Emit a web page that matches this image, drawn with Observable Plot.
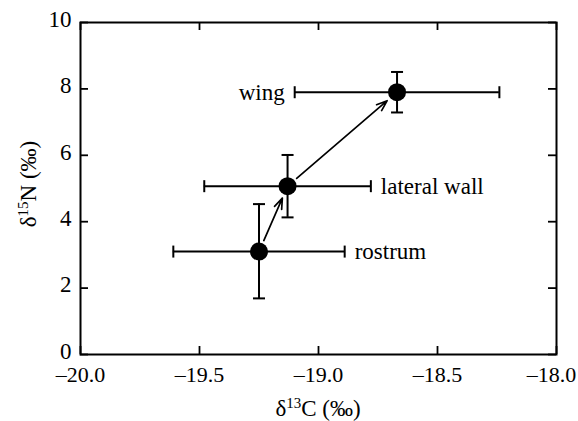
<!DOCTYPE html>
<html><head><meta charset="utf-8">
<script src="https://cdn.jsdelivr.net/npm/d3@7"></script>
<script src="https://cdn.jsdelivr.net/npm/@observablehq/plot@0.6"></script>
<style>body{margin:0;background:#fff} svg text{font-family:"Liberation Serif","Times New Roman","DejaVu Serif",serif !important;}</style>
</head><body><div id="chart"></div>
<script>
// ---- data ----
const tissues  = ["rostrum", "lateral wall", "wing"];
const d13C     = [-19.25, -19.13, -18.67];
const d13C_lo  = [-19.61, -19.48, -19.10];
const d13C_hi  = [-18.89, -18.78, -18.24];
const d15N     = [3.10, 5.07, 7.90];
const d15N_lo  = [1.69, 4.13, 7.29];
const d15N_hi  = [4.53, 6.01, 8.51];
const labelSide = ["right", "right", "left"];
const xTicks = [-20, -19.5, -19, -18.5, -18];
const yTicks = [0, 2, 4, 6, 8, 10];
const xTitle = ["δ", "13", "C (‰)"];
const yTitle = ["δ", "15", "N (‰)"];

// ---- layout ----
const W = 578, H = 421, mL = 80, mR = 22, mT = 22, mB = 67;
const innerW = W - mL - mR, innerH = H - mT - mB;
const font = "Liberation Serif, Times New Roman, DejaVu Serif, serif";
const fs = 23;

const points = tissues.map((t, i) => ({
  name: t, x: d13C[i], y: d15N[i],
  xlo: d13C_lo[i], xhi: d13C_hi[i], ylo: d15N_lo[i], yhi: d15N_hi[i],
  side: labelSide[i]
}));
const arrows = points.slice(1).map((p, i) => ({x1: points[i].x, y1: points[i].y, x2: p.x, y2: p.y}));

const capV = {draw(ctx, size) { const r = Math.sqrt(size / Math.PI); ctx.moveTo(0, -r); ctx.lineTo(0, r); }};
const capH = {draw(ctx, size) { const r = Math.sqrt(size / Math.PI); ctx.moveTo(-r, 0); ctx.lineTo(r, 0); }};
const fmtX = d => d3.format(".1f")(d).replace("−", "–");
const lastX = xTicks[xTicks.length - 1];

const chart = Plot.plot({
  width: W, height: H,
  marginLeft: mL, marginRight: mR, marginTop: mT, marginBottom: mB,
  style: {fontFamily: font, fontSize: fs + "px", background: "white", color: "black"},
  x: {domain: [-20, -18]},
  y: {domain: [0, 10]},
  marks: [
    Plot.axisX({ticks: xTicks.slice(0, -1), tickSize: 0, tickPadding: 12, tickFormat: fmtX, label: null, fontSize: 22}),
    Plot.axisX({ticks: [lastX], tickSize: 0, tickPadding: 12, tickFormat: fmtX, label: null, fontSize: 22, dx: -5}),
    Plot.axisY({ticks: yTicks, tickSize: 0, tickPadding: 9, label: null, fontSize: fs, dy: -3}),
    Plot.tickX(xTicks, {x: d => d, insetTop: innerH - 8, strokeWidth: 1.8}),
    Plot.tickX(xTicks, {x: d => d, insetBottom: innerH - 8, strokeWidth: 1.8}),
    Plot.tickY(yTicks, {y: d => d, insetRight: innerW - 8, strokeWidth: 1.8}),
    Plot.tickY(yTicks, {y: d => d, insetLeft: innerW - 8, strokeWidth: 1.8}),
    Plot.frame({stroke: "black", strokeWidth: 2}),
    Plot.ruleY(points, {y: "y", x1: "xlo", x2: "xhi", strokeWidth: 2}),
    Plot.ruleX(points, {x: "x", y1: "ylo", y2: "yhi", strokeWidth: 2}),
    Plot.dot(points, {x: "xlo", y: "y", symbol: capV, r: 6, fill: "none", stroke: "black", strokeWidth: 2}),
    Plot.dot(points, {x: "xhi", y: "y", symbol: capV, r: 6, fill: "none", stroke: "black", strokeWidth: 2}),
    Plot.dot(points, {x: "x", y: "ylo", symbol: capH, r: 6, fill: "none", stroke: "black", strokeWidth: 2}),
    Plot.dot(points, {x: "x", y: "yhi", symbol: capH, r: 6, fill: "none", stroke: "black", strokeWidth: 2}),
    Plot.arrow(arrows, {x1: "x1", y1: "y1", x2: "x2", y2: "y2", insetStart: 12, insetEnd: 13,
      headLength: 10, headAngle: 40, strokeWidth: 1.7, stroke: "black"}),
    Plot.dot(points, {x: "x", y: "y", r: 9, fill: "black", stroke: "none"}),
    Plot.text(points.filter(p => p.side === "right"), {x: "xhi", y: "y", text: "name", dx: 10, textAnchor: "start", fontSize: fs}),
    Plot.text(points.filter(p => p.side === "left"), {x: "xlo", y: "y", text: "name", dx: -10, textAnchor: "end", fontSize: fs})
  ]
});
document.getElementById("chart").appendChild(chart);

// axis titles with superscripts
const svg = d3.select(chart);
function title(parts, x, y, rotate) {
  const t = svg.append("text")
    .attr("text-anchor", "middle")
    .attr("font-size", fs)
    .attr("fill", "black")
    .attr("transform", `translate(${x},${y})` + (rotate ? " rotate(-90)" : ""));
  t.append("tspan").text(parts[0]);
  t.append("tspan").attr("font-size", fs * 0.65).attr("dy", "-0.55em").text(parts[1]);
  t.append("tspan").attr("dy", (0.55 * 0.65) + "em").text(parts[2]);
}
title(xTitle, mL + innerW / 2, H - 5, false);
title(yTitle, 36, mT + innerH / 2 - 4, true);
</script>
</body></html>
